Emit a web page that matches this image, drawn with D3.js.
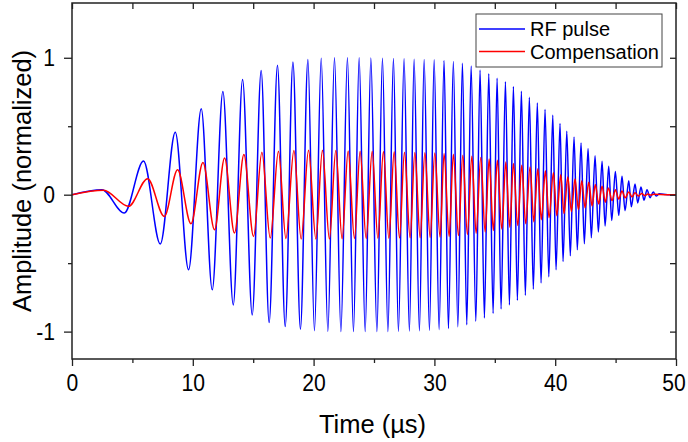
<!DOCTYPE html>
<html>
<head>
<meta charset="utf-8">
<script src="https://cdn.jsdelivr.net/npm/d3@7"></script>
<style>
  body { margin: 0; background: #fff; }
  svg { display: block; }
  text { font-family: "Liberation Sans", Arial, sans-serif; fill: #000; }
</style>
</head>
<body>
<script>
// extrema (time in µs, amplitude normalized)
const rfPeakT = [2.48, 5.92, 8.55, 10.70, 12.49, 14.12, 15.66, 17.01, 18.29, 19.53,
	20.63, 21.73, 22.80, 23.77, 24.74, 25.70, 26.61, 27.49, 28.32, 29.15,
	29.98, 30.80, 31.57, 32.32, 33.04, 33.78, 34.50, 35.19, 35.88, 36.54,
	37.20, 37.86, 38.52, 39.16, 39.80, 40.40, 40.96, 41.56, 42.14, 42.72,
	43.30, 43.88, 44.43, 44.98, 45.53, 46.09, 46.61, 47.10, 47.60, 48.12, 48.62];
const rfPeakA = [0.037, 0.246, 0.456, 0.627, 0.753, 0.841, 0.907, 0.946, 0.97, 0.988,
	0.997, 1.0, 1.0, 1.0, 0.998, 0.996, 0.995, 0.993, 0.99, 0.988,
	0.985, 0.98, 0.972, 0.96, 0.94, 0.91, 0.883, 0.85, 0.825, 0.79,
	0.756, 0.711, 0.67, 0.622, 0.58, 0.52, 0.463, 0.422, 0.378, 0.337,
	0.285, 0.244, 0.207, 0.17, 0.134, 0.102, 0.078, 0.056, 0.037, 0.02, 0.007];
const rfTroughT = [4.33, 7.31, 9.65, 11.61, 13.35, 14.92, 16.32, 17.65, 18.91, 20.07,
	21.18, 22.26, 23.30, 24.27, 25.24, 26.15, 27.02, 27.93, 28.76, 29.59,
	30.39, 31.16, 31.94, 32.68, 33.43, 34.14, 34.86, 35.52, 36.21, 36.87,
	37.53, 38.19, 38.83, 39.47, 40.07, 40.65, 41.25, 41.83, 42.41, 42.99,
	43.57, 44.13, 44.68, 45.26, 45.78, 46.30, 46.83, 47.35, 47.85, 48.35];
const rfTroughA = [-0.134, -0.36, -0.549, -0.695, -0.805, -0.878, -0.934, -0.963, -0.982, -0.993,
	-0.998, -1.0, -1.0, -1.0, -1.0, -1.0, -0.998, -0.996, -0.994, -0.99,
	-0.985, -0.978, -0.965, -0.95, -0.925, -0.9, -0.868, -0.835, -0.805, -0.772,
	-0.735, -0.69, -0.645, -0.6, -0.549, -0.488, -0.446, -0.402, -0.358, -0.315,
	-0.272, -0.228, -0.188, -0.151, -0.117, -0.088, -0.06, -0.04, -0.022, -0.01];

const compPeakT = [2.61, 6.26, 8.74, 10.84, 12.63, 14.23, 15.72, 17.09, 18.37, 19.58,
	20.73, 21.84, 22.86, 23.85, 24.85, 25.78, 26.67, 27.52, 28.38, 29.21,
	30.03, 30.80, 31.57, 32.35, 33.10, 33.84, 34.53, 35.21, 35.91, 36.54,
	37.23, 37.92, 38.56, 39.19, 39.85, 40.46, 41.04, 41.64, 42.20, 42.78,
	43.32, 43.88, 44.40, 44.98, 45.53, 46.09, 46.61, 47.16, 47.68, 48.16];
const compPeakA = [0.032, 0.117, 0.183, 0.236, 0.268, 0.293, 0.31, 0.317, 0.322, 0.324,
	0.324, 0.322, 0.32, 0.318, 0.317, 0.315, 0.313, 0.31, 0.308, 0.306,
	0.304, 0.301, 0.295, 0.288, 0.28, 0.272, 0.261, 0.251, 0.239, 0.227,
	0.215, 0.203, 0.19, 0.175, 0.16, 0.146, 0.13, 0.115, 0.102, 0.09,
	0.075, 0.062, 0.048, 0.037, 0.027, 0.02, 0.014, 0.009, 0.005, 0.003];
const compTroughT = [4.68, 7.64, 9.85, 11.80, 13.45, 15.03, 16.41, 17.71, 18.97, 20.19,
	21.31, 22.36, 23.38, 24.35, 25.32, 26.23, 27.11, 27.99, 28.82, 29.65,
	30.47, 31.22, 31.99, 32.73, 33.45, 34.20, 34.88, 35.58, 36.24, 36.90,
	37.56, 38.23, 38.85, 39.49, 40.13, 40.73, 41.34, 41.92, 42.47, 43.05,
	43.60, 44.15, 44.71, 45.26, 45.80, 46.36, 46.88, 47.41, 47.89];
const compTroughA = [-0.085, -0.159, -0.212, -0.256, -0.28, -0.305, -0.317, -0.32, -0.324, -0.324,
	-0.324, -0.322, -0.32, -0.32, -0.318, -0.318, -0.316, -0.315, -0.314, -0.312,
	-0.31, -0.305, -0.298, -0.29, -0.282, -0.272, -0.262, -0.25, -0.238, -0.225,
	-0.212, -0.198, -0.183, -0.168, -0.153, -0.138, -0.122, -0.108, -0.095, -0.082,
	-0.068, -0.055, -0.043, -0.032, -0.023, -0.016, -0.01, -0.006, -0.003];

// flat parts at both ends
const edgeT = [0, 49.3, 50];

const xTicks = [0, 10, 20, 30, 40, 50];
const xMinor = [5, 15, 25, 35, 45];
const yTicks = [-1, 0, 1];
const yMinor = [-0.5, 0.5];

const seriesNames = ['RF pulse', 'Compensation'];
const seriesColors = ['#0000ff', '#ff0000'];

const w = 688;
const h = 442;
const pl = 72, pr = 676, pt0 = 3, pb = 359;

function build(pt, pa, tt, ta) {
	const pts = edgeT.map(t => [t, 0]);
	pt.forEach((t, i) => pts.push([t, pa[i]]));
	tt.forEach((t, i) => pts.push([t, ta[i]]));
	return pts.sort((a, b) => a[0] - b[0]);
}

const rf = build(rfPeakT, rfPeakA, rfTroughT, rfTroughA);
const comp = build(compPeakT, compPeakA, compTroughT, compTroughA);

const svg = d3.select('body').append('svg').attr('width', w).attr('height', h);

const x = d3.scaleLinear().domain([0, 50]).range([pl, pr]);
const y = d3.scaleLinear().domain([-1.2, 1.4]).range([pb, pt0]);

const line = d3.line()
	.x(d => x(d[0]))
	.y(d => y(d[1]))
	.curve(d3.curveMonotoneX);

svg.append('defs').append('clipPath').attr('id', 'clip')
	.append('rect').attr('x', pl).attr('y', pt0).attr('width', pr - pl).attr('height', pb - pt0);

const plot = svg.append('g').attr('clip-path', 'url(#clip)');
plot.append('path').datum(rf).attr('d', line)
	.attr('fill', 'none').attr('stroke', seriesColors[0]).attr('stroke-width', 1.5);
plot.append('path').datum(comp).attr('d', line)
	.attr('fill', 'none').attr('stroke', seriesColors[1]).attr('stroke-width', 1.5);

function axis(gen, tr) {
	const g = svg.append('g').attr('transform', tr).call(gen);
	g.select('.domain').remove();
	g.selectAll('line').attr('stroke', '#222').attr('stroke-width', 1.3);
	return g;
}

// tick labels in the picture are a bit condensed
function narrow(sel) {
	sel.style('font-size', '24px').each(function () {
		const len = this.getComputedTextLength();
		d3.select(this).attr('textLength', len * 0.88).attr('lengthAdjust', 'spacingAndGlyphs');
	});
}

const fmt = d => String(d);

const xAxisG = axis(d3.axisBottom(x).tickValues(xTicks).tickSize(7).tickPadding(8).tickFormat(fmt), `translate(0,${pb})`);
xAxisG.selectAll('text').call(narrow);
// the last label sits against the right edge
xAxisG.selectAll('text').filter(d => d === 50).attr('dx', -2.5);
axis(d3.axisBottom(x).tickValues(xMinor).tickSize(4).tickFormat(''), `translate(0,${pb})`);
axis(d3.axisLeft(y).tickValues(yTicks).tickSize(8).tickPadding(9).tickFormat(fmt), `translate(${pl},0)`)
	.selectAll('text').call(narrow);
axis(d3.axisLeft(y).tickValues(yMinor).tickSize(4).tickFormat(''), `translate(${pl},0)`);
axis(d3.axisTop(x).tickValues(xTicks.concat(xMinor)).tickSize(-6).tickFormat(''), `translate(0,${pt0})`);
axis(d3.axisRight(y).tickValues(yTicks.concat(yMinor)).tickSize(-6).tickFormat(''), `translate(${pr},0)`);

svg.append('rect')
	.attr('x', pl).attr('y', pt0).attr('width', pr - pl).attr('height', pb - pt0)
	.attr('fill', 'none').attr('stroke', '#222').attr('stroke-width', 1.5);

svg.append('text')
	.attr('x', 372.5).attr('y', 433)
	.attr('text-anchor', 'middle').style('font-size', '25.5px')
	.text('Time (µs)');

svg.append('text')
	.attr('transform', `translate(31,${(pt0 + pb) / 2}) rotate(-90)`)
	.attr('text-anchor', 'middle').style('font-size', '25.5px')
	.text('Amplitude (normalized)');

// legend
const lg = svg.append('g').attr('transform', 'translate(476,14)');
lg.append('rect').attr('width', 186).attr('height', 53)
	.attr('fill', '#fff').attr('stroke', '#444').attr('stroke-width', 1);
seriesNames.forEach((name, i) => {
	const yy = 15 + i * 22.5;
	lg.append('line').attr('x1', 3).attr('x2', 49).attr('y1', yy).attr('y2', yy)
		.attr('stroke', seriesColors[i]).attr('stroke-width', 1.5);
	lg.append('text').attr('x', 54).attr('y', yy).attr('dy', '0.36em')
		.style('font-size', '20px').text(name);
});
</script>
</body>
</html>
